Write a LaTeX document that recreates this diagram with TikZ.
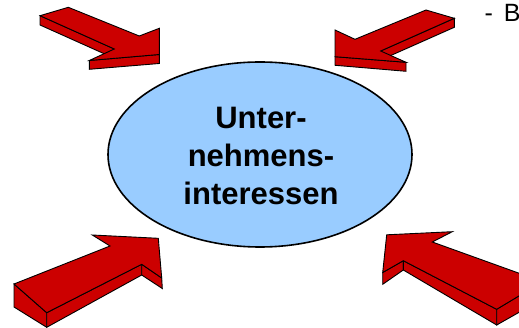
\documentclass[tikz,border=0pt]{standalone}
\usepackage{fontspec}
\setmainfont{Liberation Sans}
\definecolor{arrowred}{HTML}{CC0000}
\definecolor{bubbleblue}{HTML}{99CCFF}
\tikzset{
  face/.style={fill=arrowred, draw=black, line width=0.9pt, line join=miter},
  bubble/.style={ellipse, fill=bubbleblue, draw=black, line width=1.6pt,
    minimum width=304pt, minimum height=185pt, inner sep=0pt},
  label/.style={anchor=base, font=\fontsize{31}{38}\selectfont\bfseries, inner sep=0pt},
}
\usetikzlibrary{shapes.geometric}
\begin{document}
\begin{tikzpicture}[x=1pt,y=-1pt]
\useasboundingbox (0,0) rectangle (519,328);
\clip (0,0) rectangle (519,328);

% central ellipse
\node[bubble] (core) at (260,154.5) {};
\node[label] (l1) at (261,129) {Unter-};
\node[label] (l2) at (261,167) {nehmens-};
\node[label] (l3) at (261,205) {interessen};

% upper left block arrow
\fill[face] (40,15.7) -- (114.3,49) -- (114.3,58.3) -- (40,25) -- cycle;
\fill[face] (89.3,60.5) -- (159.3,54.5) -- (159.3,63.5) -- (89.3,69.3) -- cycle;
\fill[face] (40,15.7) -- (68.3,7.3) -- (139.3,36) -- (159.3,28.3) -- (159.3,54.5)
  -- (89.3,60.5) -- (114.3,49) -- cycle;

% upper right block arrow
\fill[face] (380.7,51) -- (454.3,18.3) -- (454.3,27.3) -- (380.7,60) -- cycle;
\fill[face] (335,56.7) -- (406,62.3) -- (406,71.3) -- (335,65.3) -- cycle;
\fill[face] (335,30) -- (355,39.3) -- (426,10) -- (454.3,18.3) -- (380.7,51)
  -- (406,62.3) -- (335,56.7) -- cycle;

% lower left block arrow
\fill[face] (14,284) -- (46.7,312.7) -- (46.7,327.3) -- (14,307) -- cycle;
\fill[face] (46.7,312.7) -- (141.7,264.3) -- (141.7,275) -- (46.7,327.3) -- cycle;
\fill[face] (141.7,264.3) -- (161.7,278) -- (162.3,288.5) -- (141.7,275) -- cycle;
\fill[face] (14,284) -- (110,246) -- (92.3,235) -- (158.3,238.3) -- (161.7,278)
  -- (141.7,264.3) -- (46.7,312.7) -- cycle;

% lower right block arrow
\fill[face] (382.7,272.5) -- (403.3,260.7) -- (403.3,270) -- (382.7,284.3) -- cycle;
\fill[face] (403.3,260.7) -- (496.7,309.3) -- (496.7,325) -- (403.3,270) -- cycle;
\fill[face] (496.7,309.3) -- (542.6,281.7) -- (542.6,299) -- (496.7,325) -- cycle;
\fill[face] (386.7,234.8) -- (452.3,231.7) -- (432.3,242) -- (542.6,281.7)
  -- (496.7,309.3) -- (403.3,260.7) -- (382.7,272.5) -- cycle;

% list entry at the top right
\node[anchor=base west, inner sep=0pt, font=\fontsize{25}{29}\selectfont] (item) at (484.5,21.5) {-\hspace{10.9pt}B};
\end{tikzpicture}
\end{document}
